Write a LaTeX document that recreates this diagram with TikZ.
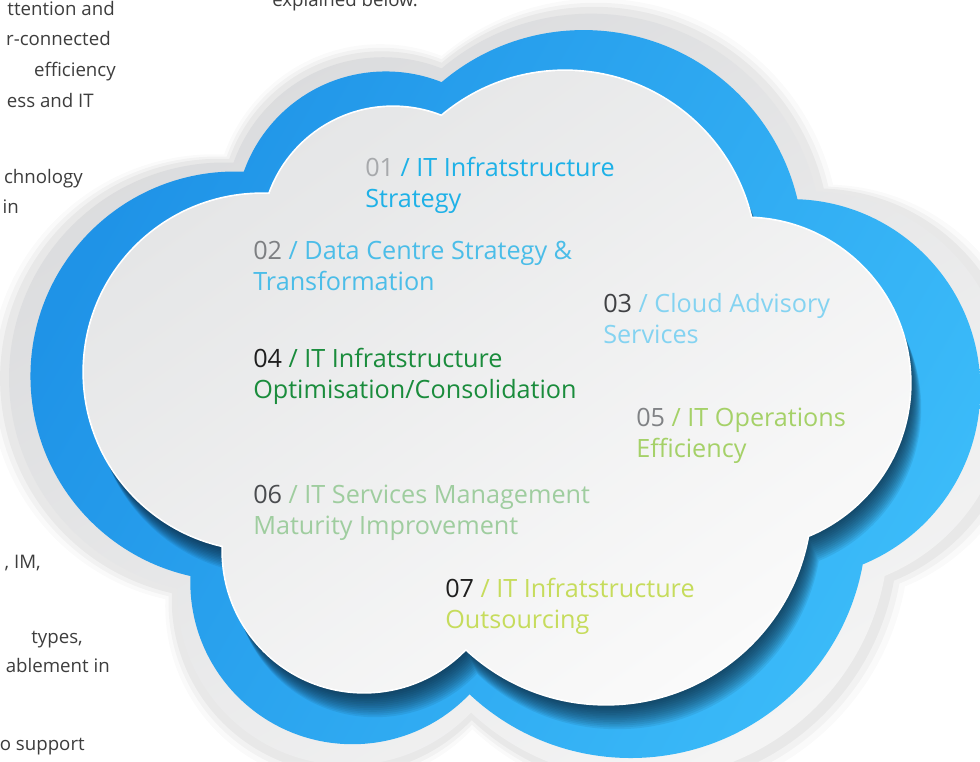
\documentclass[tikz,border=0pt]{standalone}
\usepackage{fontspec}
\setmainfont{Open Sans}
\definecolor{greyA}{HTML}{DADBDD}
\definecolor{greyB}{HTML}{F4F4F4}
\definecolor{blueA}{HTML}{1F93E7}
\definecolor{blueB}{HTML}{3BBBF9}
\definecolor{shadowc}{HTML}{0A2236}
\definecolor{whiteA}{HTML}{E4E5E6}
\definecolor{whiteB}{HTML}{FAFAFA}
\definecolor{bodytext}{HTML}{3D3D3D}
\definecolor{cA}{HTML}{1EB1E7}\definecolor{nA}{HTML}{A7A9AC}
\definecolor{cB}{HTML}{4BBDE8}\definecolor{nB}{HTML}{7D7F82}
\definecolor{cC}{HTML}{84D3F1}\definecolor{nC}{HTML}{404144}
\definecolor{cD}{HTML}{1A8C3C}\definecolor{nD}{HTML}{1F1F1F}
\definecolor{cE}{HTML}{A5D168}\definecolor{nE}{HTML}{808285}
\definecolor{cF}{HTML}{9FCD9F}\definecolor{nF}{HTML}{4A4C4F}
\definecolor{cG}{HTML}{C6DC5C}\definecolor{nG}{HTML}{1F1F1F}
\newcommand\cloudpath{(393,238) circle (131) (565,262) circle (191) (745,383) circle (165) (606,499) circle (205) (364,551) circle (141) (262,372) circle (178) (393,238) -- (565,262) -- (745,383) -- (606,499) -- (364,551) -- (262,372) -- cycle}
\begin{document}
\begin{tikzpicture}[x=0.75pt,y=-0.75pt,
  item/.style={anchor=base west, inner sep=0pt, align=left, font=\fontsize{18.9}{23.25}\selectfont},
  body/.style={anchor=base east, inner sep=0pt, text=bodytext, font=\fontsize{14}{18}\selectfont},
  grow/.style={shift={(441,344)}, scale=#1, shift={(-441,-344)}}]
\useasboundingbox (0,0) rectangle (980,761);
\clip (0,0) rectangle (980,761);
\fill[white] (0,0) rectangle (980,761);
% soft halo
\foreach \s/\o in {1.265/0.02,1.25/0.03,1.235/0.04} {
  \fill[black, opacity=\o, grow=\s] \cloudpath;
}
% grey rim
\shade[top color=greyA, bottom color=greyB, shading angle=30, grow=1.21] \cloudpath;
% blue band
\shade[top color=blueA, bottom color=blueB, shading angle=60, grow=1.15] \cloudpath;
% shadow of the white cloud on the blue band
\begin{scope}
  \clip[grow=1.15] \cloudpath;
  \foreach \k in {1,...,14} {
    \fill[shadowc, opacity=0.085, shift={(0.8*\k,1.8*\k)}] \cloudpath;
  }
\end{scope}
% white cloud with bright rim
\draw[white, line width=2.5pt] \cloudpath;
\shade[top color=whiteA, bottom color=whiteB, shading angle=35] \cloudpath;

% items (node base = baseline of the second line)
\node[item, text=cA] (t1) at (365,207) {\textcolor{nA}{01} / IT Infratstructure\\Strategy};
\node[item, text=cB] (t2) at (253,290) {\textcolor{nB}{02} / Data Centre Strategy \&\\Transformation};
\node[item, text=cC] (t3) at (603,343) {\textcolor{nC}{03} / Cloud Advisory\\Services};
\node[item, text=cD] (t4) at (253,398) {\textcolor{nD}{04} / IT Infratstructure\\Optimisation/Consolidation};
\node[item, text=cE] (t5) at (636,457) {\textcolor{nE}{05} / IT Operations\\Efficiency};
\node[item, text=cF] (t6) at (253,534) {\textcolor{nF}{06} / IT Services Management\\Maturity Improvement};
\node[item, text=cG] (t7) at (445,628) {\textcolor{nG}{07} / IT Infratstructure\\Outsourcing};

% cut-off body text around the cloud
\node[body, anchor=base west] (b0) at (272,6) {explained below.};
\node[body] (b1) at (115,15) {ttention and};
\node[body] (b2) at (111,45) {r-connected};
\node[body] (b3) at (116,76) {efficiency};
\node[body] (b4) at (94,107) {ess and IT};
\node[body] (b5) at (83,183) {chnology};
\node[body] (b6) at (19,213) {in};
\node[body] (b7) at (41,568) {, IM,};
\node[body] (b8) at (83,643) {types,};
\node[body] (b9) at (110,672) {ablement in};
\node[body] (b10) at (85,750) {o support};
\end{tikzpicture}
\end{document}
